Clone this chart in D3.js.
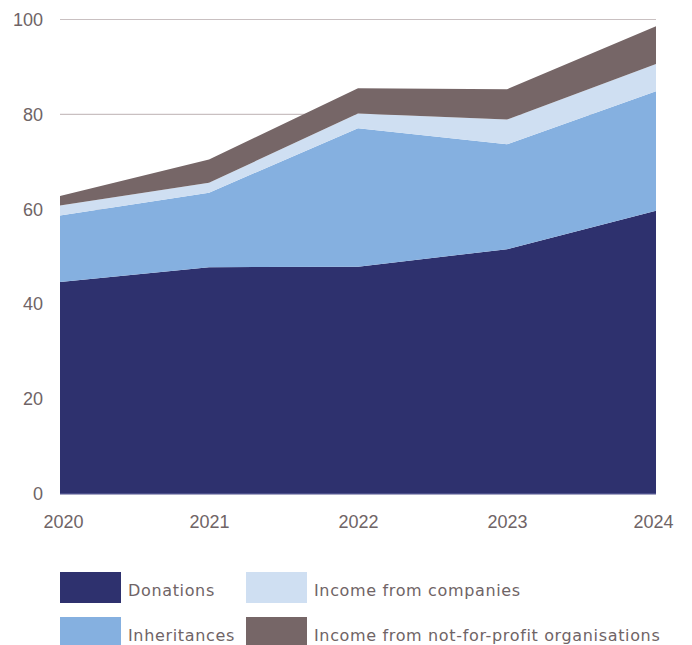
<!DOCTYPE html>
<html>
<head>
<meta charset="utf-8">
<script src="https://cdn.jsdelivr.net/npm/d3@7"></script>
<style>
  html, body { margin: 0; padding: 0; background: #fff; }
  svg { display: block; }
</style>
</head>
<body>
<svg id="chart" width="692" height="645"></svg>
<script>
// Income by source, stacked (millions)
const years = ["2020", "2021", "2022", "2023", "2024"];
const donations = [44.7, 47.8, 47.9, 51.6, 59.7];
const inheritances = [14.0, 15.7, 29.2, 22.1, 25.2];
const companies = [2.1, 2.1, 3.1, 5.2, 5.7];
const notForProfit = [2.0, 4.9, 5.3, 6.4, 8.0];
const yTicks = [0, 20, 40, 60, 80, 100];

const seriesNames = ["Donations", "Inheritances", "Income from companies", "Income from not-for-profit organisations"];
const seriesKeys = ["donations", "inheritances", "companies", "notForProfit"];
const seriesColors = ["#2e316e", "#85b0e0", "#cfdff2", "#766667"];

const rows = years.map((y, i) => ({
  year: y,
  donations: donations[i],
  inheritances: inheritances[i],
  companies: companies[i],
  notForProfit: notForProfit[i]
}));

const svg = d3.select("#chart");
const margin = { left: 60, right: 36, top: 19.5, bottom: 151 };
const W = 692, H = 645;

const x = d3.scalePoint().domain(years).range([margin.left, W - margin.right]);
const y = d3.scaleLinear().domain([0, 100]).range([H - margin.bottom, margin.top]);

const textColor = "#6f6466";
const axisFont = "'Liberation Sans', Arial, sans-serif";

// gridlines
svg.append("g")
  .selectAll("line")
  .data(yTicks)
  .join("line")
  .attr("x1", margin.left)
  .attr("x2", W - margin.right)
  .attr("y1", d => y(d))
  .attr("y2", d => y(d))
  .attr("stroke", "#c9c0c1")
  .attr("stroke-width", 1.2);

// stacked areas
const stack = d3.stack().keys(seriesKeys);
const layers = stack(rows);
const area = d3.area()
  .x(d => x(d.data.year))
  .y0(d => y(d[0]))
  .y1(d => y(d[1]));

svg.append("g")
  .selectAll("path")
  .data(layers)
  .join("path")
  .attr("d", area)
  .attr("fill", (d, i) => seriesColors[i]);

// baseline
svg.append("line")
  .attr("x1", margin.left)
  .attr("x2", W - margin.right)
  .attr("y1", y(0))
  .attr("y2", y(0))
  .attr("stroke", "#6a70a8")
  .attr("stroke-width", 1);

// y axis labels
const yAxis = d3.axisLeft(y).tickValues(yTicks).tickSize(0).tickPadding(17);
const gy = svg.append("g")
  .attr("transform", `translate(${margin.left},0)`)
  .call(yAxis);
gy.select(".domain").remove();
gy.selectAll("text")
  .attr("font-family", axisFont)
  .attr("font-size", 18)
  .attr("fill", textColor);

// x axis labels
const xAxis = d3.axisBottom(x).tickSize(0).tickPadding(21);
const gx = svg.append("g")
  .attr("transform", `translate(0,${y(0)})`)
  .call(xAxis);
gx.select(".domain").remove();
gx.selectAll("text")
  .attr("font-family", axisFont)
  .attr("font-size", 18)
  .attr("fill", textColor)
  .attr("dx", (d, i) => i === 0 ? 3 : i === years.length - 1 ? -3 : 0);

// legend
const legendItems = [
  { i: 0, col: 0, row: 0 },
  { i: 2, col: 1, row: 0 },
  { i: 1, col: 0, row: 1 },
  { i: 3, col: 1, row: 1 }
];
const colX = [60, 246];
const rowY = [572, 617];
const rowH = [31, 28];
const item = svg.append("g")
  .selectAll("g")
  .data(legendItems)
  .join("g")
  .attr("transform", d => `translate(${colX[d.col]},${rowY[d.row]})`);
item.append("rect")
  .attr("width", 61)
  .attr("height", d => rowH[d.row])
  .attr("fill", d => seriesColors[d.i]);
item.append("text")
  .attr("x", 68)
  .attr("y", 23.5)
  .attr("font-family", "'DejaVu Sans', sans-serif")
  .attr("font-size", 16)
  .attr("letter-spacing", 0.65)
  .attr("fill", textColor)
  .text(d => seriesNames[d.i]);
</script>
</body>
</html>
